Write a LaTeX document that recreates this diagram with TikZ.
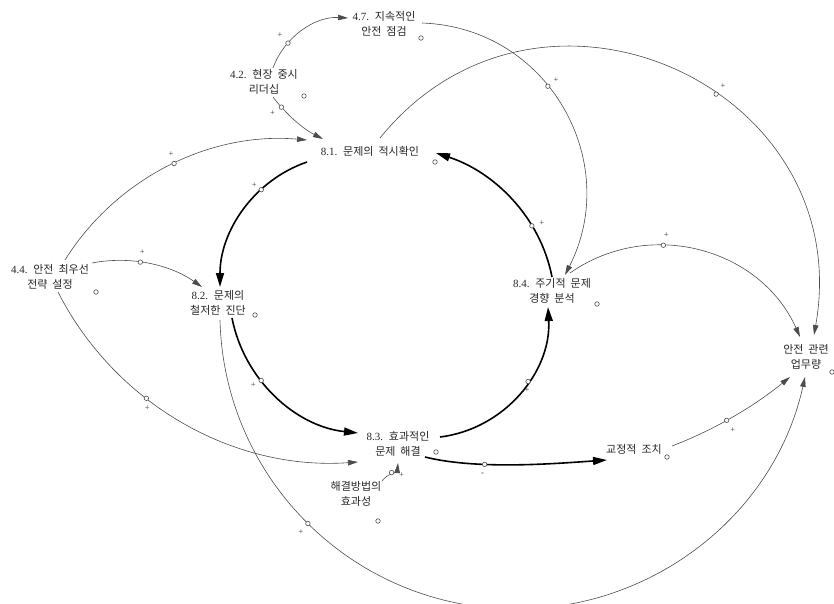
\documentclass[tikz,border=0pt]{standalone}
\usepackage{fontspec}
\setmainfont{Liberation Serif}
\newfontfamily\krfont[WordSpace=2]{Noto Sans CJK KR}
\usetikzlibrary{arrows.meta}
\newcommand\nr[1]{{\rmfamily #1}}

\begin{document}
\begin{tikzpicture}[x=1pt,y=1pt,
  var/.style={align=center, inner sep=1.5pt, font=\krfont\fontsize{11}{14.5}\selectfont, text=black!85},
  thinlink/.style={draw=black!70, line width=0.6pt, -{Triangle[length=10pt,width=5.5pt]}},
  thicklink/.style={draw=black, line width=1.6pt, -{Triangle[length=14pt,width=8pt]}},
  mk/.style={circle, draw=black!70, fill=white, line width=0.6pt, inner sep=0pt, minimum size=4.5pt},
  sgn/.style={font=\rmfamily\fontsize{8.5}{8.5}\selectfont, inner sep=0pt, text=black!80},
]
\useasboundingbox (0,0) rectangle (834,-604);

% variables
\node[var] (n47) at (384,-24) {\nr{4.7.} 지속적인\\안전 점검};
\node[var] (n42) at (264,-82) {\nr{4.2.} 현장 중시\\리더십};
\node[var] (n81) at (370,-151) {\nr{8.1.} 문제의 적시확인};
\node[var] (n44) at (50,-277) {\nr{4.4.} 안전 최우선\\전략 설정};
\node[var] (n82) at (218,-303) {\nr{8.2.} 문제의\\철저한 진단};
\node[var] (n84) at (552,-291) {\nr{8.4.} 주기적 문제\\경향 분석};
\node[var] (nwl) at (806,-357) {안전 관련\\업무량};
\node[var] (n83) at (398,-444) {\nr{8.3.} 효과적인\\문제 해결};
\node[var] (nsol) at (356,-494) {해결방법의\\효과성};
\node[var] (ncor) at (634,-449) {교정적 조치};

% small handles beside the variable names
\node[mk] (c47) at (421,-38) {};
\node[mk] (c42) at (304,-96) {};
\node[mk] (c81) at (435,-162) {};
\node[mk] (c44) at (96,-292) {};
\node[mk] (c82) at (255,-315) {};
\node[mk] (c84) at (597,-304) {};
\node[mk] (cwl) at (832,-372) {};
\node[mk] (c83) at (436,-452) {};
\node[mk] (csol) at (378,-521) {};
\node[mk] (ccor) at (667,-457) {};

% main loop
\draw[thicklink] ([shift={(-63,-11)}]n81.center) to[out=199,in=90,looseness=0.94] node[mk,pos=0.33] (mA) {} ([shift={(2,16)}]n82.center);
\draw[thicklink] ([shift={(14,-15)}]n82.center) to[out=-79,in=174,looseness=0.94] node[mk,pos=0.38] (mB) {} ([shift={(-40,11)}]n83.center);
\draw[thicklink] ([shift={(42,7)}]n83.center) to[out=7,in=-87,looseness=0.98] node[mk,pos=0.58] (mC) {} ([shift={(-4,-16)}]n84.center);
\draw[thicklink] ([shift={(0,14)}]n84.center) to[out=101,in=-18,looseness=0.92] node[mk,pos=0.31] (mD) {} ([shift={(66,-2)}]n81.center);
\draw[thicklink] ([shift={(27,-13)}]n83.center) to[out=-14,in=184,looseness=0.75] node[mk,pos=0.34] (mE) {} ([shift={(-27,-11)}]ncor.center);

% other links
\draw[thinlink] ([shift={(9,14)}]n42.center) to[out=70,in=177,looseness=0.94] node[mk,pos=0.3] (mL) {} ([shift={(-36,6)}]n47.center);
\draw[thinlink] ([shift={(9,-15)}]n42.center) to[out=-53,in=153,looseness=0.86] node[mk,pos=0.2] (mM) {} ([shift={(-47,12)}]n81.center);
\draw[thinlink] ([shift={(38,1)}]n47.center) to[out=-2,in=63,looseness=1.12] node[mk,pos=0.42] (mJ) {} ([shift={(13,16)}]n84.center);
\draw[thinlink] ([shift={(10,13)}]n81.center) to[out=51,in=80,looseness=1.36] node[mk,pos=0.58] (mI) {} ([shift={(8,22)}]nwl.center);
\draw[thinlink] ([shift={(18,18)}]n84.center) to[out=35,in=114,looseness=1.04] node[mk,pos=0.36] (mK) {} ([shift={(-6,20)}]nwl.center);
\draw[thinlink] ([shift={(15,17)}]n44.center) to[out=58,in=175,looseness=0.92] node[mk,pos=0.52] (mN) {} ([shift={(-63,11)}]n81.center);
\draw[thinlink] ([shift={(42,14)}]n44.center) to[out=11,in=145,looseness=0.89] node[mk,pos=0.42] (mO) {} ([shift={(-16,16)}]n82.center);
\draw[thinlink] ([shift={(8,-15)}]n44.center) to[out=-63,in=184,looseness=0.93] node[mk,pos=0.38] (mP) {} ([shift={(-40,-18)}]n83.center);
\draw[thinlink] ([shift={(38,3)}]ncor.center) to[out=21,in=219,looseness=0.87] node[mk,pos=0.44] (mF) {} ([shift={(-16,-20)}]nwl.center);
\draw[thinlink] ([shift={(26,13)}]nsol.center) to[out=55,in=-95,looseness=0.9] node[mk,pos=0.5] (mG) {} ([shift={(0,-19)}]n83.center);
\draw[thinlink] ([shift={(2,-17)}]n82.center) .. controls (223.6,-469.7) and (338.3,-593.1) .. (487.3,-607.6) node[mk,pos=0.53] (mH) {} .. controls (636.3,-622.1) and (772.6,-523.2) .. ([shift={(-1,-20)}]nwl.center);

% polarity signs
\node[sgn] at ([shift={(-8,8)}]mL) {+};
\node[sgn] at ([shift={(-9,-6)}]mM) {+};
\node[sgn] at ([shift={(8,6)}]mJ) {+};
\node[sgn] at ([shift={(7,8)}]mI) {+};
\node[sgn] at ([shift={(3,10)}]mK) {+};
\node[sgn] at ([shift={(-3,9)}]mN) {+};
\node[sgn] at ([shift={(2,10)}]mO) {+};
\node[sgn] at ([shift={(1,-10)}]mP) {+};
\node[sgn] at ([shift={(-7,5)}]mA) {+};
\node[sgn] at ([shift={(-8,-5)}]mB) {+};
\node[sgn] at ([shift={(-1,-9)}]mC) {+};
\node[sgn] at ([shift={(10,3)}]mD) {+};
\node[sgn] at ([shift={(-2,-10)}]mE) {-};
\node[sgn] at ([shift={(6,-10)}]mF) {+};
\node[sgn] at ([shift={(10,-3)}]mG) {+};
\node[sgn] at ([shift={(-7,-9)}]mH) {+};
\end{tikzpicture}
\end{document}
